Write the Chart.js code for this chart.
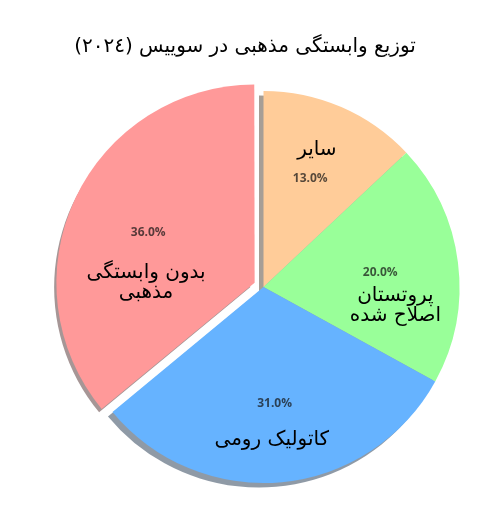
<!DOCTYPE html>
<html><head><meta charset="utf-8">
<script src="https://cdn.jsdelivr.net/npm/chart.js@4.4.1/dist/chart.umd.min.js"></script>
<style>html,body{margin:0;padding:0;background:#fff;} canvas{display:block;}</style>
</head><body>
<canvas id="c" width="500" height="512"></canvas>
<script>
// ---- data ----
const titleText = 'توزیع وابستگی مذهبی در سوییس (٢٠٢٤)';
const categories = ['سایر', 'پروتستان\nاصلاح شده', 'کاتولیک رومی', 'بدون وابستگی\nمذهبی'];
const shares = [13, 20, 31, 36];
const explode = [0, 0, 0, 1];

// ---- styling ----
const sliceColors = ['#ffcc99', '#99ff99', '#66b3ff', '#ff9999'];
const explodePx = 9.8;
const pieRadius = 196;
const shadowDX = -4.5, shadowDY = 4.5;
const pctFrac = 0.6;
// label placement relative to each slice: radial fraction and angular nudge (deg, clockwise)
const labelFrac = [0.75, 0.68, 0.78, 0.554];
const labelShift = [-2.1, 15.4, 2.3, -25.2];

function shadowOf(hex){
  const r = parseInt(hex.slice(1,3),16), g = parseInt(hex.slice(3,5),16), b = parseInt(hex.slice(5,7),16);
  return `rgba(${Math.round(r*0.3)},${Math.round(g*0.3)},${Math.round(b*0.3)},0.5)`;
}
function arcCenter(arc){
  const p = arc.getProps(['x','y','startAngle','endAngle','outerRadius']);
  const off = (arc.options.offset || 0) / 4;
  const mid = (p.startAngle + p.endAngle) / 2;
  return {cx: p.x + Math.cos(mid)*off, cy: p.y + Math.sin(mid)*off, mid, p};
}

const shadowPlugin = {
  id: 'shadow',
  beforeDatasetsDraw(chart){
    const c = chart.ctx;
    chart.getDatasetMeta(0).data.forEach((arc, i) => {
      const {cx, cy, p} = arcCenter(arc);
      const x = cx + shadowDX, y = cy + shadowDY;
      c.save();
      c.beginPath();
      c.moveTo(x, y);
      c.arc(x, y, p.outerRadius, p.startAngle, p.endAngle);
      c.closePath();
      c.fillStyle = shadowOf(sliceColors[i]);
      c.fill();
      c.restore();
    });
  }
};

const labelPlugin = {
  id: 'sliceLabels',
  afterDatasetsDraw(chart){
    const c = chart.ctx;
    const total = shares.reduce((a,b)=>a+b,0);
    chart.getDatasetMeta(0).data.forEach((arc, i) => {
      const {cx, cy, mid, p} = arcCenter(arc);
      const R = p.outerRadius;
      c.save();
      c.textAlign = 'center';
      c.textBaseline = 'middle';
      // percentage
      c.font = 'bold 12px "Open Sans"';
      c.fillStyle = 'rgba(20,20,20,0.72)';
      c.direction = 'ltr';
      c.fillText((shares[i]/total*100).toFixed(1) + '%', cx + Math.cos(mid)*R*pctFrac, cy + Math.sin(mid)*R*pctFrac);
      // category label
      const a = mid + labelShift[i]*Math.PI/180;
      const lx = cx + Math.cos(a)*R*labelFrac[i], ly = cy + Math.sin(a)*R*labelFrac[i];
      const lines = categories[i].split('\n');
      const lh = 20.5;
      c.font = '20px "DejaVu Sans"';
      c.fillStyle = '#000';
      c.direction = 'rtl';
      lines.forEach((ln, k) => {
        c.fillText(ln, lx, ly + (k - (lines.length-1)/2)*lh);
      });
      c.restore();
    });
  }
};

const titlePlugin = {
  id: 'rtlTitle',
  afterDraw(chart){
    const c = chart.ctx;
    c.save();
    c.font = '20px "DejaVu Sans"';
    c.fillStyle = '#000';
    c.textAlign = 'center';
    c.textBaseline = 'middle';
    c.direction = 'rtl';
    c.fillText(titleText, 245, 47);
    c.restore();
  }
};

new Chart(document.getElementById('c'), {
  type: 'pie',
  data: {
    labels: categories,
    datasets: [{
      data: shares,
      backgroundColor: sliceColors,
      borderWidth: 0,
      offset: explode.map(e => e * explodePx * 4),
      hoverOffset: 0
    }]
  },
  options: {
    responsive: false,
    animation: false,
    events: [],
    radius: pieRadius,
    rotation: 0,
    layout: {padding: {left: 63, right: 36, top: 87, bottom: 25}},
    plugins: {legend: {display: false}, tooltip: {enabled: false}, title: {display: false}}
  },
  plugins: [shadowPlugin, labelPlugin, titlePlugin]
});
</script>
</body></html>
